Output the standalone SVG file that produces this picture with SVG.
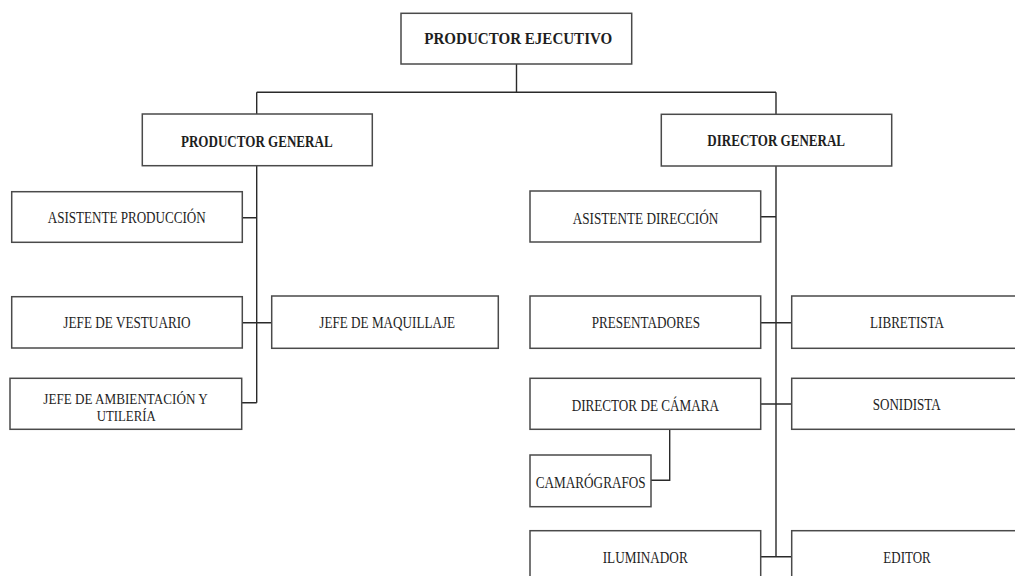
<svg xmlns="http://www.w3.org/2000/svg" width="1015" height="576" viewBox="0 0 1015 576">
<style>
.box{fill:#fff;stroke:#4a4a4a;stroke-width:1.5}
.ln{fill:none;stroke:#2a2a2a;stroke-width:1.4}
text{font-family:'Liberation Serif',serif;font-size:17px;fill:#1e1e1e;text-anchor:middle}
.b{font-weight:bold;font-size:17.5px}
.s{font-size:14.5px}
</style>
<rect width="1015" height="576" fill="#fff"/>
<g id="connectors">
<path class="ln" d="M516.5 64 V92.3 M256.7 92.3 H776 M256.7 92.3 V114 M776 92.3 V114"/>
<path class="ln" d="M256.7 166 V402.7 M242.3 217.7 H256.7 M242.3 322.7 H271.7 M241.7 402.7 H256.7"/>
<path class="ln" d="M776 166 V556.7 M760.7 216.7 H776 M760.7 322.7 H791.7 M760.7 404 H791.7 M760.7 556.7 H791.7"/>
<path class="ln" d="M669.7 429.3 V480.3 H651"/>
</g>
<g id="productor-ejecutivo"><rect class="box" x="401" y="13.3" width="230.7" height="50.7"/><text class="b" x="518.3" y="44.3" textLength="188" lengthAdjust="spacingAndGlyphs">PRODUCTOR EJECUTIVO</text></g>
<g id="productor-general"><rect class="box" x="142.3" y="114" width="230" height="51.7"/><text class="b" x="256.8" y="146.5" textLength="151.7" lengthAdjust="spacingAndGlyphs">PRODUCTOR GENERAL</text></g>
<g id="director-general"><rect class="box" x="661.3" y="114.3" width="230.4" height="51.7"/><text class="b" x="776.2" y="146" textLength="137.7" lengthAdjust="spacingAndGlyphs">DIRECTOR GENERAL</text></g>
<g id="asistente-produccion"><rect class="box" x="11.7" y="191.7" width="230.6" height="50.6"/><text x="126.7" y="223.3" textLength="158" lengthAdjust="spacingAndGlyphs">ASISTENTE PRODUCCIÓN</text></g>
<g id="jefe-vestuario"><rect class="box" x="11.7" y="296.7" width="230.6" height="51.3"/><text x="127" y="328.3" textLength="127.3" lengthAdjust="spacingAndGlyphs">JEFE DE VESTUARIO</text></g>
<g id="jefe-maquillaje"><rect class="box" x="271.7" y="296" width="226.6" height="52.3"/><text x="387.2" y="327.7" textLength="135.7" lengthAdjust="spacingAndGlyphs">JEFE DE MAQUILLAJE</text></g>
<g id="jefe-ambientacion"><rect class="box" x="10" y="378.3" width="231.7" height="51"/><text class="s" x="125.5" y="403.5" textLength="164.3" lengthAdjust="spacingAndGlyphs">JEFE DE AMBIENTACIÓN Y</text><text class="s" x="126.2" y="420.7" textLength="59" lengthAdjust="spacingAndGlyphs">UTILERÍA</text></g>
<g id="asistente-direccion"><rect class="box" x="530" y="191" width="230.7" height="51"/><text x="645.5" y="224" textLength="145.7" lengthAdjust="spacingAndGlyphs">ASISTENTE DIRECCIÓN</text></g>
<g id="presentadores"><rect class="box" x="530" y="296" width="230.7" height="52.3"/><text x="645.8" y="328.3" textLength="108.3" lengthAdjust="spacingAndGlyphs">PRESENTADORES</text></g>
<g id="libretista"><rect class="box" x="791.7" y="296" width="231" height="52.3"/><text x="907" y="328.3" textLength="74" lengthAdjust="spacingAndGlyphs">LIBRETISTA</text></g>
<g id="director-camara"><rect class="box" x="530" y="378.3" width="230.7" height="51"/><text x="645.3" y="411" textLength="147.3" lengthAdjust="spacingAndGlyphs">DIRECTOR DE CÁMARA</text></g>
<g id="sonidista"><rect class="box" x="791.7" y="378.3" width="231" height="51"/><text x="906.7" y="410" textLength="68" lengthAdjust="spacingAndGlyphs">SONIDISTA</text></g>
<g id="camarografos"><rect class="box" x="530" y="455" width="121" height="51.7"/><text x="590.7" y="488.3" textLength="110" lengthAdjust="spacingAndGlyphs">CAMARÓGRAFOS</text></g>
<g id="iluminador"><rect class="box" x="530" y="530.7" width="230.7" height="51.3"/><text x="645.2" y="562.7" textLength="85" lengthAdjust="spacingAndGlyphs">ILUMINADOR</text></g>
<g id="editor"><rect class="box" x="791.7" y="530.7" width="231" height="51.3"/><text x="907" y="562.7" textLength="47.3" lengthAdjust="spacingAndGlyphs">EDITOR</text></g>
</svg>
